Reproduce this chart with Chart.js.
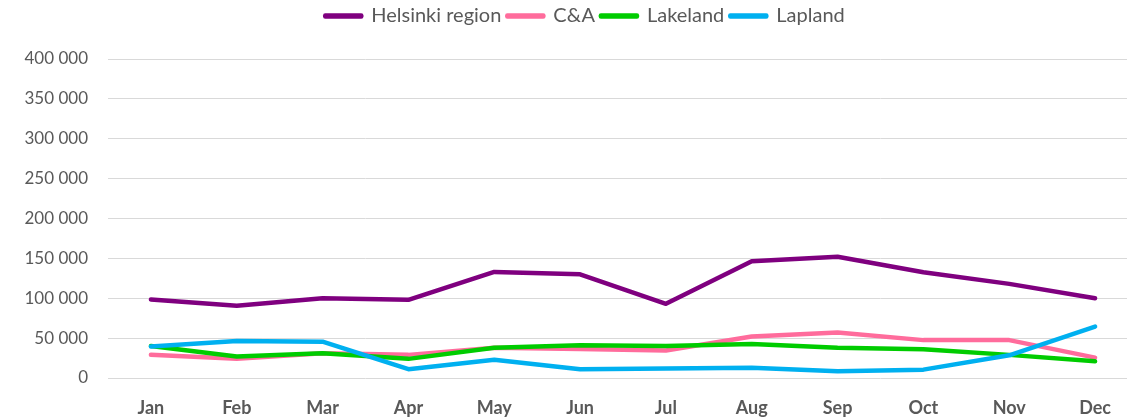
<!DOCTYPE html>
<html>
<head>
<meta charset="utf-8">
<script src="https://cdn.jsdelivr.net/npm/chart.js@4.4.1/dist/chart.umd.min.js"></script>
<style>
  html, body { margin: 0; padding: 0; background: #fff; overflow: hidden; }
  #wrap { width: 1170px; height: 419px; position: relative; }
</style>
</head>
<body>
<div id="wrap"><canvas id="chart"></canvas></div>
<script>
const months = ['Jan', 'Feb', 'Mar', 'Apr', 'May', 'Jun', 'Jul', 'Aug', 'Sep', 'Oct', 'Nov', 'Dec'];
const helsinki = [98500, 90500, 100000, 98000, 133000, 130000, 93000, 146500, 152000, 132500, 118000, 100000];
const cAndA = [29000, 24000, 31000, 29000, 38000, 36500, 34500, 52000, 57000, 47500, 47500, 25500];
const lakeland = [40000, 27000, 31000, 24000, 38000, 41000, 40000, 42500, 38000, 36000, 29000, 21000];
const lapland = [39500, 46500, 45500, 11000, 23000, 11000, 12000, 13000, 8500, 10500, 28500, 64500];

const textGrey = '#595959';
const font = 'Lato, "Open Sans", sans-serif';

function series(label, data, color, order) {
    return {
        label: label,
        data: data,
        borderColor: color,
        backgroundColor: color,
        borderWidth: 4.5,
        borderCapStyle: 'round',
        borderJoinStyle: 'round',
        pointRadius: 0,
        tension: 0,
        order: order
    };
}

// legend needs some extra space below it
const legendSpacer = {
    id: 'legendSpacer',
    beforeInit(chart) {
        const fit = chart.legend.fit;
        chart.legend.fit = function () {
            fit.call(this);
            this.height += 23;
        };
    }
};

new Chart(document.getElementById('chart'), {
    type: 'line',
    data: {
        labels: months,
        datasets: [
            series('Helsinki region', helsinki, '#7f007f', 3),
            series('C&A', cAndA, '#ff6c9c', 2),
            series('Lakeland', lakeland, '#00cc00', 1),
            series('Lapland', lapland, '#00b0f0', 0)
        ]
    },
    options: {
        responsive: true,
        maintainAspectRatio: false,
        animation: false,
        plugins: {
            legend: {
                position: 'top',
                labels: {
                    color: textGrey,
                    font: { family: font, size: 20 },
                    boxWidth: 36,
                    boxHeight: 1,
                    padding: 6,
                    sort: (a, b) => a.datasetIndex - b.datasetIndex
                }
            },
            tooltip: { enabled: false }
        },
        scales: {
            x: {
                offset: true,
                grid: { display: false, drawTicks: false },
                border: { display: false },
                ticks: {
                    color: textGrey,
                    font: { family: font, size: 18, weight: 'bold' },
                    padding: 19,
                    maxRotation: 0
                },
                afterFit(scale) { scale.height = 41; }
            },
            y: {
                min: 0,
                max: 400000,
                grid: { color: '#d9d9d9', lineWidth: 1, drawTicks: false },
                border: { display: false },
                ticks: {
                    stepSize: 50000,
                    color: textGrey,
                    font: { family: font, size: 17 },
                    padding: 20,
                    callback: v => v.toLocaleString('en-US').replace(/,/g, ' ')
                },
                afterFit(scale) { scale.width = 108; }
            },
            y2: {
                position: 'right',
                grid: { display: false, drawTicks: false },
                border: { display: false },
                ticks: { display: false },
                afterFit(scale) { scale.width = 32; }
            }
        }
    },
    plugins: [legendSpacer]
});
</script>
</body>
</html>
